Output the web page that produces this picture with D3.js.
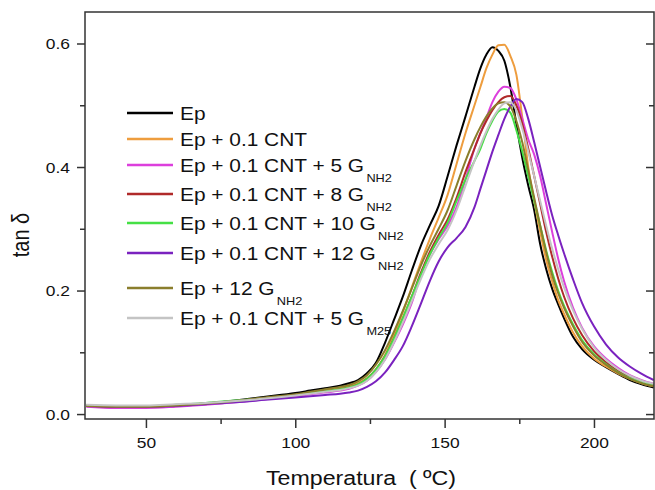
<!DOCTYPE html>
<html>
<head>
<meta charset="utf-8">
<script src="https://cdn.jsdelivr.net/npm/d3@7"></script>
<style>
  body { margin: 0; background: #fff; }
  svg { display: block; font-family: "Liberation Sans", Arial, sans-serif; }
</style>
</head>
<body>
<svg id="chart" width="655" height="490"></svg>
<script>
// Temperature grid (ºC) shared by every curve
const temps = [30, 40, 50, 60, 70, 80, 90, 100, 105, 110, 115, 118, 121, 124, 127, 130, 133, 136, 139, 142, 145, 148, 151, 154, 157, 160, 162, 164, 166, 168, 170, 172, 174, 176, 178, 180, 182, 184, 186, 188, 190, 193, 196, 200, 204, 208, 212, 216, 220];

// tan delta values, one array per sample
const ep = [0.013, 0.011, 0.012, 0.014, 0.017, 0.022, 0.028, 0.034, 0.038, 0.042, 0.046, 0.050, 0.055, 0.066, 0.083, 0.115, 0.152, 0.190, 0.232, 0.272, 0.305, 0.337, 0.385, 0.435, 0.482, 0.530, 0.560, 0.582, 0.594, 0.588, 0.572, 0.530, 0.470, 0.415, 0.370, 0.330, 0.275, 0.235, 0.203, 0.178, 0.155, 0.125, 0.105, 0.088, 0.076, 0.065, 0.055, 0.048, 0.043];
const epCnt = [0.013, 0.012, 0.012, 0.014, 0.017, 0.021, 0.026, 0.031, 0.034, 0.038, 0.042, 0.045, 0.050, 0.058, 0.072, 0.095, 0.128, 0.165, 0.205, 0.245, 0.283, 0.318, 0.355, 0.405, 0.455, 0.500, 0.530, 0.560, 0.582, 0.597, 0.598, 0.580, 0.550, 0.480, 0.400, 0.345, 0.295, 0.250, 0.215, 0.185, 0.162, 0.132, 0.110, 0.090, 0.077, 0.066, 0.057, 0.050, 0.045];
const cnt5G = [0.012, 0.010, 0.010, 0.012, 0.015, 0.019, 0.024, 0.029, 0.032, 0.035, 0.038, 0.041, 0.046, 0.054, 0.068, 0.088, 0.115, 0.145, 0.180, 0.225, 0.258, 0.283, 0.305, 0.335, 0.380, 0.430, 0.455, 0.480, 0.505, 0.522, 0.530, 0.528, 0.510, 0.478, 0.445, 0.420, 0.385, 0.340, 0.295, 0.252, 0.215, 0.172, 0.140, 0.110, 0.090, 0.075, 0.063, 0.055, 0.049];
const cnt8G = [0.014, 0.012, 0.012, 0.014, 0.017, 0.021, 0.026, 0.031, 0.034, 0.037, 0.040, 0.043, 0.048, 0.057, 0.072, 0.093, 0.122, 0.155, 0.190, 0.228, 0.262, 0.290, 0.315, 0.350, 0.392, 0.430, 0.455, 0.475, 0.492, 0.505, 0.513, 0.515, 0.500, 0.470, 0.430, 0.385, 0.340, 0.295, 0.255, 0.220, 0.190, 0.155, 0.128, 0.102, 0.084, 0.070, 0.060, 0.052, 0.047];
const cnt10G = [0.014, 0.013, 0.013, 0.015, 0.018, 0.022, 0.026, 0.031, 0.034, 0.037, 0.040, 0.043, 0.048, 0.057, 0.072, 0.093, 0.122, 0.155, 0.190, 0.225, 0.258, 0.285, 0.310, 0.345, 0.380, 0.410, 0.430, 0.455, 0.475, 0.490, 0.494, 0.488, 0.460, 0.425, 0.385, 0.345, 0.305, 0.265, 0.230, 0.200, 0.175, 0.145, 0.120, 0.097, 0.081, 0.068, 0.058, 0.051, 0.046];
const cnt12G = [0.013, 0.012, 0.012, 0.013, 0.016, 0.019, 0.023, 0.027, 0.029, 0.031, 0.033, 0.035, 0.038, 0.044, 0.053, 0.067, 0.087, 0.110, 0.142, 0.178, 0.215, 0.247, 0.270, 0.285, 0.303, 0.335, 0.365, 0.395, 0.425, 0.452, 0.478, 0.498, 0.510, 0.505, 0.478, 0.440, 0.400, 0.360, 0.322, 0.290, 0.260, 0.218, 0.180, 0.142, 0.113, 0.092, 0.077, 0.065, 0.055];
const ep12G = [0.013, 0.012, 0.012, 0.014, 0.017, 0.021, 0.027, 0.032, 0.036, 0.040, 0.044, 0.047, 0.053, 0.063, 0.080, 0.103, 0.133, 0.167, 0.203, 0.240, 0.272, 0.300, 0.330, 0.370, 0.410, 0.445, 0.465, 0.482, 0.495, 0.503, 0.505, 0.498, 0.475, 0.440, 0.395, 0.350, 0.305, 0.262, 0.225, 0.196, 0.172, 0.142, 0.117, 0.095, 0.080, 0.067, 0.057, 0.050, 0.045];
const cnt5GM25 = [0.015, 0.014, 0.014, 0.016, 0.018, 0.021, 0.025, 0.030, 0.033, 0.036, 0.039, 0.042, 0.046, 0.054, 0.068, 0.088, 0.116, 0.148, 0.183, 0.218, 0.250, 0.275, 0.298, 0.330, 0.370, 0.410, 0.435, 0.458, 0.478, 0.493, 0.503, 0.505, 0.492, 0.462, 0.425, 0.385, 0.345, 0.305, 0.268, 0.235, 0.205, 0.168, 0.138, 0.108, 0.088, 0.073, 0.062, 0.054, 0.049];

// legend labels: main text + subscript
const labels = [
    ["Ep", ""],
    ["Ep + 0.1 CNT", ""],
    ["Ep + 0.1 CNT + 5 G", "NH2"],
    ["Ep + 0.1 CNT + 8 G", "NH2"],
    ["Ep + 0.1 CNT + 10 G", "NH2"],
    ["Ep + 0.1 CNT + 12 G", "NH2"],
    ["Ep + 12 G", "NH2"],
    ["Ep + 0.1 CNT + 5 G", "M25"]
];
const colors = ["#000000", "#ee9d3e", "#dc3fdc", "#b02a2a", "#45e045", "#7a22bf", "#8a7e2c", "#c4c4c4"];
const seriesValues = [ep, epCnt, cnt5G, cnt8G, cnt10G, cnt12G, ep12G, cnt5GM25];

const yMajor = [0, 0.2, 0.4, 0.6];
const yMinor = [0.1, 0.3, 0.5];
const xMajor = [50, 100, 150, 200];
const xMinor = [75, 125, 175];

// the picture is a bit wider than normal text
const SX = 1.16;

const margin = { left: 85, right: 1, top: 12, bottom: 71 };
const W = 655, H = 490;

const svg = d3.select("#chart");

const x = d3.scaleLinear().domain([29.6, 220.1]).range([margin.left, W - margin.right]);
const y = d3.scaleLinear().domain([-0.008, 0.651]).range([H - margin.bottom, margin.top]);

svg.append("clipPath").attr("id", "clip")
    .append("rect")
    .attr("x", margin.left).attr("y", margin.top)
    .attr("width", W - margin.left - margin.right)
    .attr("height", H - margin.top - margin.bottom);

// curves
const series = seriesValues.map((vals, i) => ({
    name: labels[i].join(""),
    color: colors[i],
    points: temps.map((t, j) => [t, vals[j]])
}));

const line = d3.line()
    .x(d => x(d[0]))
    .y(d => y(d[1]))
    .curve(d3.curveMonotoneX);

svg.append("g")
    .attr("clip-path", "url(#clip)")
    .selectAll("path")
    .data(series)
    .join("path")
    .attr("fill", "none")
    .attr("stroke", d => d.color)
    .attr("stroke-width", 2)
    .attr("stroke-linejoin", "round")
    .attr("d", d => line(d.points));

// axes
const axisColor = "#333";
function styleAxis(g) {
    g.select(".domain").remove();
    g.selectAll("line").attr("stroke", axisColor).attr("stroke-width", 1.5);
}

const bottom = H - margin.bottom;
const right = W - margin.right;

svg.append("g")
    .attr("transform", `translate(0,${bottom})`)
    .call(d3.axisBottom(x).tickValues(xMajor).tickSize(9).tickFormat(d3.format("d")))
    .call(styleAxis)
    .call(g => g.selectAll("text")
        .attr("y", null).attr("dy", null)
        .attr("fill", "#111")
        .attr("font-size", 15)
        .attr("transform", `translate(0,29) scale(${SX},1)`));

svg.append("g")
    .attr("transform", `translate(0,${bottom})`)
    .call(d3.axisBottom(x).tickValues(xMinor).tickSize(5).tickFormat(""))
    .call(styleAxis);

svg.append("g")
    .attr("transform", `translate(${margin.left},0)`)
    .call(d3.axisLeft(y).tickValues(yMajor).tickSize(8).tickFormat(d3.format(".1f")))
    .call(styleAxis)
    .call(g => g.selectAll("text")
        .attr("x", null).attr("dy", "0.35em")
        .attr("fill", "#111")
        .attr("font-size", 15)
        .attr("transform", `translate(-15,0) scale(${SX},1)`));

svg.append("g")
    .attr("transform", `translate(${margin.left},0)`)
    .call(d3.axisLeft(y).tickValues(yMinor).tickSize(5).tickFormat(""))
    .call(styleAxis);

// right side: inward ticks, no labels
svg.append("g")
    .attr("transform", `translate(${right},0)`)
    .call(d3.axisRight(y).tickValues(yMajor).tickSize(-8).tickFormat(""))
    .call(styleAxis);

svg.append("g")
    .attr("transform", `translate(${right},0)`)
    .call(d3.axisRight(y).tickValues(yMinor).tickSize(-5).tickFormat(""))
    .call(styleAxis);

// frame
svg.append("rect")
    .attr("x", margin.left).attr("y", margin.top)
    .attr("width", right - margin.left)
    .attr("height", bottom - margin.top)
    .attr("fill", "none")
    .attr("stroke", axisColor)
    .attr("stroke-width", 1.5);

// axis titles
svg.append("text")
    .attr("transform", `translate(361,485) scale(${SX},1)`)
    .attr("text-anchor", "middle")
    .attr("font-size", 20)
    .attr("fill", "#111")
    .text("Temperatura\u00a0\u00a0(\u00a0ºC)");

svg.append("text")
    .attr("transform", `translate(29,235) scale(${SX},1) rotate(-90)`)
    .attr("text-anchor", "middle")
    .attr("font-size", 20)
    .attr("fill", "#111")
    .text("tan δ");

// legend
const legendRows = [113, 139, 165, 194, 223, 253, 288, 318];
const legend = svg.append("g")
    .selectAll("g")
    .data(series)
    .join("g")
    .attr("transform", (d, i) => `translate(127,${legendRows[i]})`);

legend.append("line")
    .attr("x1", 0).attr("x2", 46)
    .attr("stroke", d => d.color)
    .attr("stroke-width", 2.5);

const legendText = legend.append("text")
    .attr("transform", `translate(53,6.5) scale(${SX},1)`)
    .attr("font-size", 18)
    .attr("fill", "#111");

legendText.append("tspan").text((d, i) => labels[i][0]);
legendText.append("tspan")
    .attr("font-size", 11)
    .attr("dx", 2)
    .attr("dy", 10)
    .text((d, i) => labels[i][1]);
</script>
</body>
</html>
